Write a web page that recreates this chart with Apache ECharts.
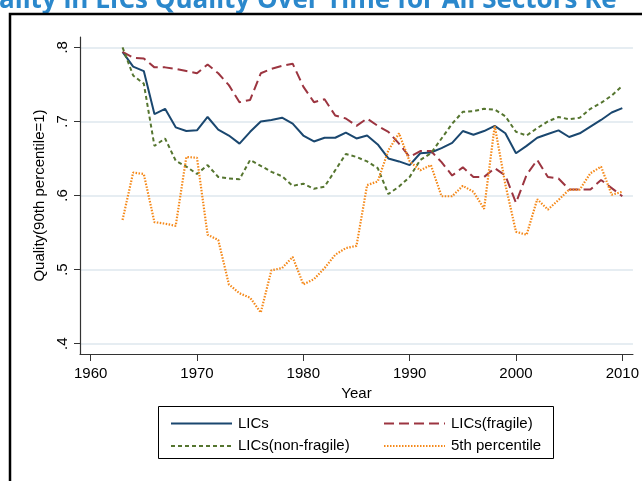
<!DOCTYPE html>
<html>
<head>
<meta charset="utf-8">
<script src="https://cdn.jsdelivr.net/npm/echarts@6/dist/echarts.min.js"></script>
<style>
  html, body { margin: 0; padding: 0; background: #fff; }
  #chart { width: 642px; height: 481px; }
</style>
</head>
<body>
<div id="chart"></div>
<script>
const years = [1963, 1964, 1965, 1966, 1967, 1968, 1969, 1970, 1971, 1972, 1973, 1974,
  1975, 1976, 1977, 1978, 1979, 1980, 1981, 1982, 1983, 1984, 1985,
  1986, 1987, 1988, 1989, 1990, 1991, 1992, 1993, 1994, 1995, 1996, 1997,
  1998, 1999, 2000, 2001, 2002, 2003, 2004, 2005, 2006, 2007, 2008, 2009, 2010]

const lics = [0.794, 0.774, 0.768, 0.710, 0.717, 0.692, 0.687, 0.688, 0.706, 0.689, 0.681, 0.670,
  0.686, 0.700, 0.702, 0.705, 0.697, 0.681, 0.673, 0.678, 0.678, 0.685, 0.677,
  0.681, 0.669, 0.650, 0.646, 0.641, 0.657, 0.658, 0.664, 0.671, 0.687, 0.682, 0.687,
  0.694, 0.684, 0.657, 0.667, 0.678, 0.683, 0.688, 0.679, 0.684, 0.693, 0.702, 0.712, 0.718]

const licsFragile = [0.794, 0.786, 0.785, 0.773, 0.773, 0.771, 0.768, 0.765, 0.777, 0.765, 0.749, 0.726,
  0.729, 0.765, 0.771, 0.775, 0.778, 0.747, 0.726, 0.730, 0.708, 0.704, 0.694,
  0.704, 0.694, 0.686, 0.670, 0.652, 0.660, 0.660, 0.645, 0.627, 0.638, 0.625, 0.625,
  0.637, 0.627, 0.590, 0.628, 0.648, 0.625, 0.623, 0.608, 0.608, 0.608, 0.621, 0.610, 0.599]

const licsNonFragile = [0.800, 0.762, 0.751, 0.667, 0.677, 0.647, 0.639, 0.629, 0.641, 0.625, 0.623, 0.622,
  0.648, 0.640, 0.632, 0.626, 0.613, 0.616, 0.609, 0.612, 0.634, 0.656, 0.652,
  0.646, 0.637, 0.602, 0.612, 0.625, 0.648, 0.657, 0.677, 0.697, 0.713, 0.714, 0.717,
  0.716, 0.707, 0.686, 0.681, 0.691, 0.700, 0.706, 0.703, 0.705, 0.717, 0.725, 0.735, 0.748]

const pct5 = [0.567, 0.631, 0.629, 0.564, 0.562, 0.559, 0.652, 0.651, 0.547, 0.540, 0.480, 0.468,
  0.462, 0.442, 0.499, 0.502, 0.517, 0.480, 0.487, 0.502, 0.520, 0.529, 0.532,
  0.614, 0.619, 0.661, 0.684, 0.646, 0.634, 0.641, 0.599, 0.599, 0.613, 0.605, 0.582,
  0.694, 0.615, 0.551, 0.547, 0.595, 0.581, 0.594, 0.608, 0.608, 0.630, 0.639, 0.601, 0.605]

const xTicks = [1960, 1970, 1980, 1990, 2000, 2010]
const yTicks = [0.4, 0.5, 0.6, 0.7, 0.8]

const FONT = '"Liberation Sans", Arial, sans-serif'

const pairs = vals => years.map((y, i) => [y, vals[i]])

const chart = echarts.init(document.getElementById('chart'), null, { renderer: 'canvas' })

const mkSeries = (name, vals, color, type, width) => ({
  name,
  type: 'line',
  data: pairs(vals),
  symbol: 'none',
  lineStyle: { color, width, type },
  itemStyle: { color },
  emphasis: { disabled: true },
  animation: false
})

// two stacked legends give the 2x2 layout
const legendCommon = {
  orient: 'vertical',
  top: 411,
  itemWidth: 61,
  itemHeight: 14,
  itemGap: 7.6,
  itemStyle: { opacity: 0 },
  textStyle: { fontFamily: FONT, fontSize: 15, color: '#000', padding: [0, 0, 0, 1] },
  selectedMode: false
}

chart.setOption({
  backgroundColor: '#fff',
  animation: false,
  grid: { left: 80, right: 9, top: 37, bottom: 127 },
  xAxis: {
    type: 'value',
    min: 1959,
    max: 2011,
    name: 'Year',
    nameLocation: 'middle',
    nameGap: 26,
    nameTextStyle: { fontFamily: FONT, fontSize: 15, color: '#000' },
    axisLine: { lineStyle: { color: '#333', width: 1.2 } },
    axisTick: { show: true, length: 7, lineStyle: { color: '#333' }, customValues: xTicks },
    axisLabel: {
      fontFamily: FONT, fontSize: 15, color: '#000', margin: 12,
      customValues: xTicks,
      formatter: v => String(v)
    },
    splitLine: { show: false }
  },
  yAxis: {
    type: 'value',
    min: 0.386,
    max: 0.814,
    name: 'Quality(90th percentile=1)',
    nameLocation: 'middle',
    nameRotate: 90,
    nameGap: 30,
    nameTextStyle: { fontFamily: FONT, fontSize: 15, color: '#000' },
    axisLine: { show: true, lineStyle: { color: '#333', width: 1.2 } },
    axisTick: { show: true, length: 6, lineStyle: { color: '#333' }, customValues: yTicks },
    axisLabel: {
      fontFamily: FONT, fontSize: 15, color: '#000', rotate: 90, margin: 10,
      customValues: yTicks,
      formatter: v => String(Math.round(v * 10) / 10).replace(/^0/, '')
    },
    splitLine: { show: true, lineStyle: { color: '#e6edf2', width: 2 } }
  },
  legend: [
    Object.assign({}, legendCommon, { left: 165, data: ['LICs', 'LICs(non-fragile)'] }),
    Object.assign({}, legendCommon, { left: 378, data: ['LICs(fragile)', '5th percentile'] })
  ],
  graphic: [
    {
      type: 'text',
      left: -1,
      top: -12,
      style: {
        text: 'ality in LICs Quality Over Time for All Sectors Re',
        font: 'bold 26px "Open Sans", sans-serif',
        fill: '#2b88cc'
      },
      silent: true
    },
    {
      type: 'rect',
      shape: { x: 10, y: 14, width: 700, height: 500 },
      style: { fill: 'none', stroke: '#000', lineWidth: 2.5 },
      silent: true
    },
    {
      type: 'rect',
      shape: { x: 158.5, y: 406.5, width: 395, height: 52 },
      style: { fill: 'none', stroke: '#000', lineWidth: 1 },
      silent: true
    }
  ],
  series: [
    mkSeries('LICs', lics, '#1a476f', 'solid', 2),
    mkSeries('LICs(fragile)', licsFragile, '#9c3540', [10, 5], 2),
    mkSeries('LICs(non-fragile)', licsNonFragile, '#55752f', [4, 3], 2),
    mkSeries('5th percentile', pct5, '#f5891a', [1.5, 1.5], 2.2)
  ]
})

window.addEventListener('resize', () => chart.resize())
</script>
</body>
</html>
